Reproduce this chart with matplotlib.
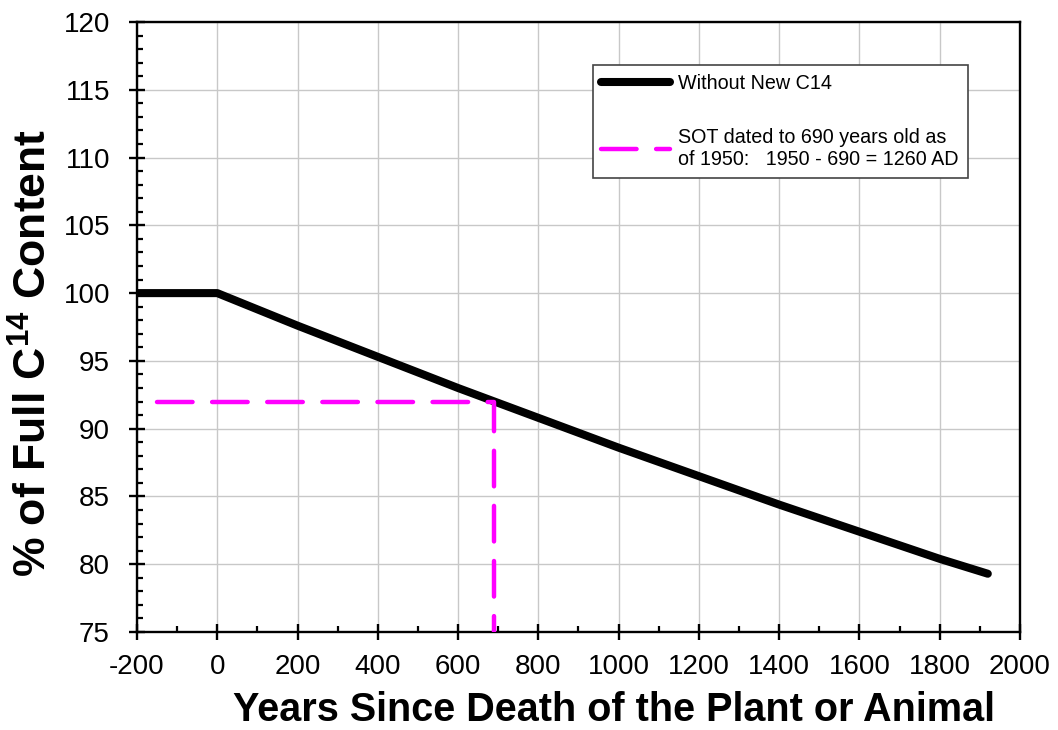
import matplotlib
matplotlib.use("Agg")
import matplotlib.pyplot as plt
from matplotlib.ticker import MultipleLocator

plt.rcParams['font.family'] = ['Liberation Sans', 'DejaVu Sans']
plt.rcParams['mathtext.fontset'] = 'custom'
plt.rcParams['mathtext.rm'] = 'Liberation Sans'
plt.rcParams['mathtext.bf'] = 'Liberation Sans:bold'
plt.rcParams['axes.unicode_minus'] = False

# Data
years = [-200, 0, 200, 400, 600, 800, 1000, 1200, 1400, 1600, 1800, 1920]
content = [100, 100, 97.6, 95.3, 93.0, 90.8, 88.6, 86.5, 84.4, 82.4, 80.4, 79.3]
sot_x = [-150, 690, 690]
sot_y = [92, 92, 75]
label_main = "Without New C14"
label_sot = "SOT dated to 690 years old as\nof 1950:   1950 - 690 = 1260 AD"

fig = plt.figure(figsize=(10.58, 7.30), dpi=100)
ax = fig.add_axes([0.1295, 0.1342, 0.8345, 0.8357])

ax.plot(years, content, color='black', lw=5.8, solid_capstyle='round',
        solid_joinstyle='round', label=label_main, zorder=3)
ax.plot(sot_x, sot_y, color='#ff00ff', lw=3.2, dashes=(8, 4.4),
        dash_capstyle='round', label=label_sot, zorder=4)

ax.set_xlim(-200, 2000)
ax.set_ylim(75, 120)
ax.xaxis.set_major_locator(MultipleLocator(200))
ax.xaxis.set_minor_locator(MultipleLocator(100))
ax.yaxis.set_major_locator(MultipleLocator(5))
ax.yaxis.set_minor_locator(MultipleLocator(1))
ax.grid(True, which='major', color='#c8c8c8', lw=1.0, zorder=0)
ax.set_axisbelow(True)

for s in ax.spines.values():
    s.set_linewidth(1.7)
    s.set_color('black')

ax.tick_params(which='major', direction='inout', length=11, width=1.7,
               labelsize=20)
ax.tick_params(which='minor', direction='in', length=4.5, width=1.6)
ax.tick_params(axis='y', which='major', pad=14)
ax.tick_params(axis='x', which='major', pad=10)

ax.set_xlabel("Years Since Death of the Plant or Animal", fontsize=28.5,
              fontweight='bold', va='center')
ax.xaxis.set_label_coords(0.54, -0.128)
ax.set_ylabel(r"% of Full C$^{\mathbf{14}}$ Content", fontsize=32,
              fontweight='bold', va='center')
ax.yaxis.set_label_coords(-0.117, 0.457)

leg = ax.legend(loc='upper left', bbox_to_anchor=(0.516, 0.9295),
                fontsize=14.2, frameon=True, fancybox=False, edgecolor='#444444',
                framealpha=1, handlelength=3.5, handletextpad=0.4,
                labelspacing=1.8, borderpad=0.45, borderaxespad=0)
leg.get_frame().set_linewidth(1.2)

fig.savefig("out.png", dpi=100)
